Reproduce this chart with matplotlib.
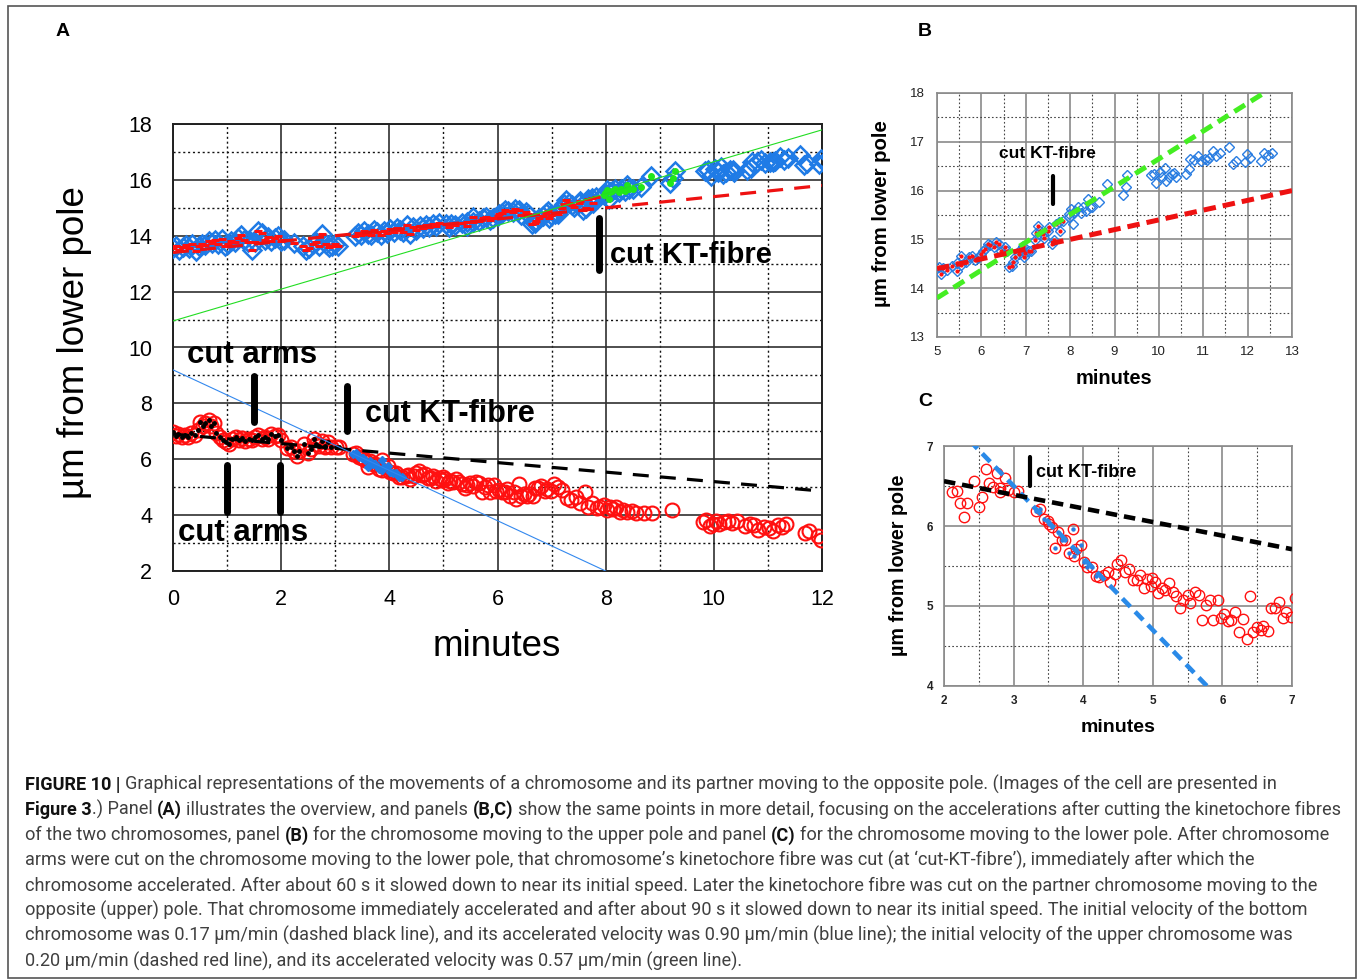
import numpy as np
import matplotlib
matplotlib.use("Agg")
import matplotlib.pyplot as plt
from matplotlib.ticker import MultipleLocator
from matplotlib.patches import Rectangle

plt.rcParams['font.family'] = ['Liberation Sans', 'DejaVu Sans']

# ---------------- data ----------------
# chromosome moving to the upper pole (minutes, µm from lower pole)
upper_x = [0.00, 0.06, 0.12, 0.18, 0.24, 0.30, 0.36, 0.42, 0.48, 0.54, 0.60, 0.66, 0.72, 0.78, 0.84,
           0.90, 0.96, 1.02, 1.08, 1.14, 1.20, 1.26, 1.32, 1.38, 1.46, 1.52, 1.58, 1.64, 1.70, 1.76,
           1.82, 1.88, 1.94, 2.00, 2.06, 2.24, 2.40, 2.46, 2.52, 2.58, 2.64, 2.70, 2.76, 2.82, 2.88,
           2.94, 3.00, 3.06, 3.36, 3.42, 3.48, 3.54, 3.60, 3.66, 3.72, 3.78, 3.84, 3.90, 3.96, 4.02,
           4.08, 4.14, 4.20, 4.26, 4.32, 4.38, 4.44, 4.50, 4.56, 4.62, 4.68, 4.74, 4.80, 4.86, 4.92,
           5.05, 5.10, 5.14, 5.22, 5.34, 5.44, 5.44, 5.54, 5.54, 5.65, 5.73, 5.79, 5.86, 5.92, 6.00,
           6.03, 6.09, 6.14, 6.20, 6.29, 6.33, 6.39, 6.44, 6.53, 6.57, 6.63, 6.69, 6.71, 6.76, 6.84,
           6.89, 6.93, 6.95, 6.99, 7.07, 7.12, 7.20, 7.23, 7.27, 7.32, 7.38, 7.42, 7.50, 7.53, 7.59,
           7.63, 7.68, 7.74, 7.77, 7.83, 7.97, 7.98, 8.02, 8.06, 8.08, 8.12, 8.17, 8.25, 8.29, 8.35,
           8.40, 8.44, 8.50, 8.66, 8.83, 9.19, 9.25, 9.29, 9.83, 9.90, 9.94, 10.02, 10.08, 10.13,
           10.17, 10.23, 10.29, 10.35, 10.38, 10.62, 10.69, 10.71, 10.80, 10.88, 10.94, 11.03, 11.09,
           11.14, 11.22, 11.29, 11.37, 11.59, 11.67, 11.73, 11.95, 11.98, 12.05, 12.31, 12.37, 12.46,
           12.56]
upper_y = [13.55, 13.62, 13.50, 13.58, 13.66, 13.55, 13.70, 13.45, 13.62, 13.72, 13.66, 13.80, 13.74,
           13.85, 13.70, 13.88, 13.62, 13.70, 13.82, 13.76, 13.92, 14.02, 13.86, 13.78, 13.50, 13.78,
           14.18, 14.10, 13.84, 13.96, 13.80, 13.92, 14.00, 13.80, 13.86, 13.74, 13.62, 13.48, 13.56,
           13.70, 13.76, 13.62, 14.05, 13.70, 13.58, 13.64, 13.70, 13.62, 14.00, 14.10, 14.04, 14.16,
           14.08, 14.02, 14.20, 14.12, 14.04, 14.16, 14.10, 14.24, 14.14, 14.28, 14.20, 14.12, 14.40,
           14.06, 14.30, 14.22, 14.34, 14.26, 14.38, 14.30, 14.42, 14.34, 14.46,
           14.43, 14.30, 14.41, 14.37, 14.45, 14.51, 14.36, 14.48, 14.67, 14.53, 14.63, 14.67, 14.58,
           14.62, 14.70, 14.77, 14.80, 14.91, 14.89, 14.85, 14.94, 14.91, 14.76, 14.85, 14.77, 14.43,
           14.45, 14.53, 14.63, 14.71, 14.80, 14.87, 14.63, 14.73, 14.77, 14.77, 14.99, 15.14, 15.27,
           15.18, 15.11, 15.02, 15.17, 15.25, 14.91, 14.99, 15.31, 15.36, 15.18, 15.38, 15.45, 15.52,
           15.62, 15.32, 15.55, 15.59, 15.66, 15.55, 15.67, 15.59, 15.83, 15.66, 15.67, 15.76, 16.14,
           15.90, 16.07, 16.32, 16.31, 16.34, 16.15, 16.38, 16.27, 16.46, 16.20, 16.27, 16.35, 16.37,
           16.27, 16.35, 16.44, 16.65, 16.63, 16.70, 16.61, 16.65, 16.63, 16.67, 16.82, 16.70, 16.78,
           16.90, 16.55, 16.61, 16.58, 16.76, 16.67, 16.61, 16.78, 16.72, 16.78]

# chromosome moving to the lower pole
lower_x = [0.00, 0.05, 0.10, 0.16, 0.22, 0.28, 0.34, 0.40, 0.46, 0.50, 0.55, 0.60, 0.66, 0.70, 0.76,
           0.80, 0.86, 0.92, 0.98, 1.04, 1.10, 1.16, 1.22, 1.28, 1.34, 1.40, 1.46, 1.52, 1.58, 1.64,
           1.70, 1.76, 1.82, 1.88, 1.94, 2.00,
           2.11, 2.19, 2.23, 2.29, 2.33, 2.43, 2.50, 2.55, 2.60, 2.65, 2.70, 2.76, 2.81, 2.81, 2.87,
           2.92, 3.01, 3.07, 3.32, 3.38, 3.43, 3.49, 3.51, 3.55, 3.60, 3.64, 3.69, 3.74, 3.80, 3.86,
           3.87, 3.90, 3.97, 4.01, 4.06, 4.12, 4.18, 4.23, 4.30, 4.35, 4.38, 4.45, 4.49, 4.55, 4.60,
           4.66, 4.71, 4.77, 4.81, 4.87, 4.91, 4.98, 4.99, 5.03, 5.08, 5.13, 5.18, 5.23, 5.29, 5.34,
           5.39, 5.44, 5.50, 5.54, 5.60, 5.66, 5.71, 5.77, 5.82, 5.86, 5.93, 5.98, 6.03, 6.08, 6.13,
           6.18, 6.24, 6.30, 6.35, 6.39, 6.44, 6.49, 6.55, 6.59, 6.66, 6.70, 6.75, 6.81, 6.87, 6.91,
           6.98,
           7.05, 7.12, 7.20, 7.28, 7.35, 7.45, 7.52, 7.61, 7.68, 7.75, 7.84, 7.90, 7.96, 8.02, 8.08,
           8.14, 8.20, 8.26, 8.32, 8.40, 8.48, 8.56, 8.70, 8.85, 9.22, 9.80, 9.86, 9.92, 9.98, 10.04,
           10.10, 10.18, 10.26, 10.34, 10.42, 10.58, 10.66, 10.74, 10.82, 10.92, 11.02, 11.10, 11.18,
           11.26, 11.34, 11.68, 11.76, 11.92, 11.98]
lower_y = [6.98, 6.85, 6.92, 6.80, 6.88, 6.78, 6.95, 6.86, 7.05, 7.35, 7.18, 7.28, 7.42, 7.20, 7.30,
           6.95, 6.80, 6.68, 6.60, 6.55, 6.72, 6.80, 6.70, 6.76, 6.66, 6.74, 6.68, 6.78, 6.86, 6.72,
           6.80, 6.74, 6.90, 6.82, 6.88, 6.70,
           6.42, 6.44, 6.29, 6.11, 6.29, 6.56, 6.24, 6.36, 6.71, 6.54, 6.49, 6.66, 6.48, 6.43, 6.60,
           6.45, 6.43, 6.44, 6.19, 6.21, 6.09, 6.06, 6.03, 5.99, 5.73, 5.93, 5.83, 5.82, 5.66, 5.96,
           5.62, 5.71, 5.76, 5.55, 5.49, 5.49, 5.38, 5.36, 5.39, 5.42, 5.30, 5.40, 5.52, 5.58, 5.42,
           5.46, 5.32, 5.33, 5.39, 5.22, 5.34, 5.25, 5.35, 5.30, 5.16, 5.22, 5.20, 5.29, 5.17, 5.12,
           4.97, 5.07, 5.14, 5.04, 5.17, 5.14, 4.83, 5.01, 5.07, 4.82, 5.07, 4.85, 4.90, 4.81, 4.83,
           4.92, 4.68, 4.84, 4.59, 5.13, 4.67, 4.74, 4.70, 4.75, 4.69, 4.97, 4.98, 5.05, 4.85, 4.93,
           4.86,
           5.10, 5.00, 4.90, 4.60, 4.54, 4.66, 4.45, 4.84, 4.30, 4.42, 4.25, 4.30, 4.36, 4.18, 4.30,
           4.22, 4.28, 4.12, 4.20, 4.10, 4.16, 4.06, 4.06, 4.06, 4.18, 3.75, 3.83, 3.62, 3.68, 3.78,
           3.70, 3.76, 3.80, 3.72, 3.78, 3.60, 3.70, 3.64, 3.48, 3.58, 3.55, 3.42, 3.64, 3.58, 3.68,
           3.36, 3.42, 3.24, 3.12]

# fitted velocities: (intercept µm, slope µm/min)
upper_initial = (13.4, 0.20)     # dashed red
upper_accel = (10.95, 0.57)      # green
lower_initial = (6.9, -0.17)     # dashed black
lower_accel = (9.2, -0.90)       # blue

x_ticks_A = [0, 2, 4, 6, 8, 10, 12]
y_ticks_A = [2, 4, 6, 8, 10, 12, 14, 16, 18]
x_ticks_B = [5, 6, 7, 8, 9, 10, 11, 12, 13]
y_ticks_B = [13, 14, 15, 16, 17, 18]
x_ticks_C = [2, 3, 4, 5, 6, 7]
y_ticks_C = [4, 5, 6, 7]

caption = [
    [("FIGURE 10 |", True), (" Graphical representations of the movements of a chromosome and its partner moving to the opposite pole. (Images of the cell are presented in", False)],
    [("Figure 3", True), (".) Panel ", False), ("(A)", True), (" illustrates the overview, and panels ", False), ("(B,C)", True), (" show the same points in more detail, focusing on the accelerations after cutting the kinetochore fibres", False)],
    [("of the two chromosomes, panel ", False), ("(B)", True), (" for the chromosome moving to the upper pole and panel ", False), ("(C)", True), (" for the chromosome moving to the lower pole. After chromosome", False)],
    [("arms were cut on the chromosome moving to the lower pole, that chromosome\u2019s kinetochore fibre was cut (at \u2018cut-KT-fibre\u2019), immediately after which the", False)],
    [("chromosome accelerated. After about 60 s it slowed down to near its initial speed. Later the kinetochore fibre was cut on the partner chromosome moving to the", False)],
    [("opposite (upper) pole. That chromosome immediately accelerated and after about 90 s it slowed down to near its initial speed. The initial velocity of the bottom", False)],
    [("chromosome was 0.17 \u00b5m/min (dashed black line), and its accelerated velocity was 0.90 \u00b5m/min (blue line); the initial velocity of the upper chromosome was", False)],
    [("0.20 \u00b5m/min (dashed red line), and its accelerated velocity was 0.57 \u00b5m/min (green line).", False)],
]

# ---------------- figure ----------------
W, H = 1357, 980
fig = plt.figure(figsize=(W / 100, H / 100), dpi=100)


def fx(px):
    return px / W


def fy(py):
    return 1 - py / H


def rect(l, t, r, b):
    return [fx(l), fy(b), fx(r) - fx(l), fy(t) - fy(b)]


ux = np.array(upper_x)
uy = np.array(upper_y)
lx = np.array(lower_x)
ly = np.array(lower_y)


def line(p, x0, x1):
    xs = np.array([x0, x1])
    return xs, p[0] + p[1] * xs


BLUE = '#1f7be6'
RED = '#ff1010'
GREEN = '#22e61a'


def style_axes(ax, xt, yt, xmin, ymin, major_c, minor_c, major_lw, minor_lw, spine_c, spine_lw):
    ax.set_xticks(xt)
    ax.set_yticks(yt)
    ax.xaxis.set_minor_locator(MultipleLocator(xmin))
    ax.yaxis.set_minor_locator(MultipleLocator(ymin))
    ax.set_xlim(xt[0], xt[-1])
    ax.set_ylim(yt[0], yt[-1])
    ax.grid(which='major', color=major_c, lw=major_lw, ls='-')
    ax.grid(which='minor', color=minor_c, lw=minor_lw, ls=(0, (1.5, 2)))
    ax.set_axisbelow(True)
    ax.tick_params(which='both', length=0)
    for s in ax.spines.values():
        s.set_color(spine_c)
        s.set_linewidth(spine_lw)


# ---- Panel A ----
axA = fig.add_axes(rect(173, 124, 822, 571))
style_axes(axA, x_ticks_A, y_ticks_A, 1, 1, '#303030', '#111111', 1.2, 1.0, '#202020', 1.4)
axA.tick_params(axis='y', labelsize=15.5, pad=15)
axA.tick_params(axis='x', labelsize=15.5, pad=13)

axA.plot(ux, uy, ls='none', marker='D', ms=9, mfc='none', mec=BLUE, mew=1.8, zorder=3)
m = ux < 7.85
axA.plot(ux[m], uy[m], ls='none', marker='_', ms=6, mec=RED, mew=2.2, zorder=4)
m = (ux >= 7.85) & (ux <= 9.3)
axA.plot(ux[m], uy[m], ls='none', marker='o', ms=4, mfc=GREEN, mec=GREEN, zorder=4)

axA.plot(lx, ly, ls='none', marker='o', ms=10, mfc='none', mec=RED, mew=1.5, zorder=3)
m = lx < 3.25
axA.plot(lx[m], ly[m], ls='none', marker='o', ms=2.5, mfc='k', mec='k', zorder=4)
m = (lx >= 3.3) & (lx <= 4.25)
axA.plot(lx[m], ly[m], ls='none', marker='D', ms=4, mfc=BLUE, mec=BLUE, zorder=4)

xs, ys = line(upper_initial, 0, 12)
axA.plot(xs, ys, color='#ee1111', lw=2.3, dashes=(5, 3.5), zorder=5)
xs, ys = line(lower_initial, 0, 12)
axA.plot(xs, ys, color='k', lw=2.3, dashes=(5, 3.5), zorder=5)
xs, ys = line(upper_accel, 0, 12)
axA.plot(xs, ys, color='#22dd22', lw=0.8, zorder=5)
xs, ys = line(lower_accel, 0, 8)
axA.plot(xs, ys, color='#3388ee', lw=0.8, zorder=5)

bar_kw = dict(color='k', lw=5, solid_capstyle='round', zorder=6)
axA.plot([1.5, 1.5], [7.35, 8.98], **bar_kw)
axA.plot([3.22, 3.22], [7.02, 8.62], **bar_kw)
axA.plot([1.0, 1.0], [4.12, 5.78], **bar_kw)
axA.plot([1.98, 1.98], [4.12, 5.78], **bar_kw)
axA.plot([7.87, 7.87], [12.76, 14.65], **bar_kw)
tkw = dict(fontweight='bold', va='center', ha='left', zorder=7)
axA.text(0.26, 9.73, 'cut arms', fontsize=22.5, **tkw)
axA.text(0.09, 3.36, 'cut arms', fontsize=22.5, **tkw)
axA.text(3.55, 7.62, 'cut KT-fibre', fontsize=22, **tkw)
axA.text(8.08, 13.31, 'cut KT-fibre', fontsize=21, **tkw)

fig.text(fx(497), fy(646), 'minutes', fontsize=26.5, ha='center', va='center')
fig.text(fx(75), fy(343), '\u00b5m from lower pole', fontsize=26.5, ha='center', va='center', rotation=90)

# ---- Panel B ----
axB = fig.add_axes(rect(937, 93, 1292, 337))
style_axes(axB, x_ticks_B, y_ticks_B, 0.5, 0.5, '#8a8a8a', '#444444', 1.2, 0.8, '#8a8a8a', 1.2)
axB.tick_params(labelsize=9.5, labelcolor='#222222')
axB.tick_params(axis='y', pad=8.5)
axB.tick_params(axis='x', pad=6.5)
mb = ux >= 5.0
axB.plot(ux[mb], uy[mb], ls='none', marker='D', ms=5, mfc='none', mec='#2a7de1', mew=1.0, zorder=3)
m = mb & (ux < 7.85)
axB.plot(ux[m], uy[m], ls='none', marker='o', ms=2, mfc=RED, mec=RED, zorder=4)
xs, ys = line(upper_accel, 5, 13)
axB.plot(xs, ys, color='#44ee22', lw=3.6, dashes=(2.5, 1.4), zorder=5)
xs, ys = line(upper_initial, 5, 13)
axB.plot(xs, ys, color='#ee1111', lw=3.6, dashes=(2.5, 1.4), zorder=5)
axB.plot([7.61, 7.61], [15.72, 16.3], color='k', lw=3, solid_capstyle='round', zorder=6)
axB.text(6.40, 16.75, 'cut KT-fibre', fontsize=12.5, fontweight='bold', va='center', ha='left')
fig.text(fx(1114), fy(378), 'minutes', fontsize=14.4, fontweight='bold', ha='center', va='center')
fig.text(fx(882), fy(214), '\u00b5m from lower pole', fontsize=14.7, fontweight='bold',
         ha='center', va='center', rotation=90)

# ---- Panel C ----
axC = fig.add_axes(rect(944, 446, 1292, 686))
style_axes(axC, x_ticks_C, y_ticks_C, 0.5, 0.5, '#8a8a8a', '#444444', 1.2, 0.8, '#8a8a8a', 1.2)
axC.tick_params(labelsize=8.5, labelcolor='#222222')
axC.tick_params(axis='y', pad=8)
axC.tick_params(axis='x', pad=6.5)
for lab in axC.get_xticklabels() + axC.get_yticklabels():
    lab.set_fontweight('bold')
mc = lx >= 2.05
axC.plot(lx[mc], ly[mc], ls='none', marker='o', ms=7.5, mfc='none', mec=RED, mew=1.0, zorder=3)
m = (lx >= 3.3) & (lx <= 4.2)
axC.plot(lx[m], ly[m], ls='none', marker='o', ms=2.2, mfc='#2a7de1', mec='#2a7de1', zorder=4)
xs, ys = line(lower_accel, 2, 7)
axC.plot(xs, ys, color='#2a8ae8', lw=3.3, dashes=(2.5, 1.5), zorder=5)
xs, ys = line(lower_initial, 2, 7)
axC.plot(xs, ys, color='k', lw=3.3, dashes=(2.5, 1.5), zorder=5)
axC.plot([3.24, 3.24], [6.5, 6.86], color='k', lw=3, solid_capstyle='round', zorder=6)
axC.text(3.32, 6.675, 'cut KT-fibre', fontsize=13, fontweight='bold', va='center', ha='left')
fig.text(fx(1118), fy(727), 'minutes', fontsize=14, fontweight='bold', ha='center', va='center')
fig.text(fx(898), fy(565), '\u00b5m from lower pole', fontsize=14.2, fontweight='bold',
         ha='center', va='center', rotation=90)

# panel letters
for letter, px, py in [('A', 63, 31), ('B', 925, 31), ('C', 925, 401)]:
    fig.text(fx(px), fy(py), letter, fontsize=14, fontweight='bold', ha='center', va='center')

# border
fig.patches.append(Rectangle((fx(8), fy(978)), fx(1356) - fx(8), fy(6) - fy(978),
                             transform=fig.transFigure, fill=False, ec='#555555', lw=1.2))

# ---- caption ----
renderer = fig.canvas.get_renderer()
CAP_FONT = ['Roboto', 'DejaVu Sans']


def tw(s, size, bold):
    t = fig.text(0, 0, s, fontsize=size, fontweight='bold' if bold else 'normal', fontfamily=CAP_FONT)
    w = t.get_window_extent(renderer).width
    t.remove()
    return w


def space_w(size, bold):
    return tw('x x', size, bold) - tw('xx', size, bold)


def layout(segs, size, x0, py, draw):
    x = x0
    for s, bold in segs:
        if s.startswith(' '):
            x += space_w(size, bold)
        core = s.strip()
        if core:
            w = tw(core, size, bold)
            if draw:
                fig.text(fx(x), fy(py), core, fontsize=size, fontweight='bold' if bold else 'normal',
                         fontfamily=CAP_FONT, color='#111111' if bold else '#404040',
                         ha='left', va='baseline')
            x += w
        if s.endswith(' ') and core:
            x += space_w(size, bold)
    return x - x0


line_ends = [1278, 1335, 1330, 1115, 1313, 1294, 1284, 737]
x_start = 25
base = 12.0
sizes = []
for i in [0, 1, 2, 4, 5, 6]:
    wtot = layout(caption[i], base, x_start, 0, False)
    sizes.append(base * (line_ends[i] - x_start) / wtot)
cap_size = float(np.median(sizes))
for i, segs in enumerate(caption):
    py = 790 + i * 25.2
    layout(segs, cap_size, x_start, py, True)

fig.savefig('out.png', dpi=100)
